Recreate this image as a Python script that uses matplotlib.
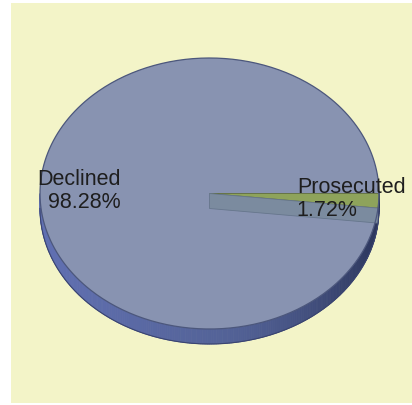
import numpy as np
import matplotlib
matplotlib.use('Agg')
import matplotlib.pyplot as plt
from matplotlib.patches import Polygon

categories = ['Declined', 'Prosecuted']
values = [98.28, 1.72]
pct_labels = ['98.28%', '1.72%']

W, H = 412, 405
fig = plt.figure(figsize=(W / 100, H / 100), dpi=100, facecolor='white')
ax = fig.add_axes([11 / W, 2 / H, 401 / W, 400 / H])
ax.set_xlim(11, 412)
ax.set_ylim(402, 2)
ax.set_facecolor('#f3f4c8')
ax.set_xticks([])
ax.set_yticks([])
for s in ax.spines.values():
    s.set_visible(False)

cx, cy, rx, ry, depth = 209.5, 192.5, 169.5, 135.5, 15.0


def rim(th):
    return cx + rx * np.cos(th), cy + ry * np.sin(th)


fr = np.array(values) / sum(values)
# Prosecuted starts at angle 0 and goes clockwise on screen
p_start, p_end = 0.0, 2 * np.pi * fr[1]
d_start, d_end = p_end, 2 * np.pi

# side (front half)
left_c = np.array([0.38, 0.44, 0.70])
mid_c = np.array([0.33, 0.39, 0.60])
right_c = np.array([0.17, 0.21, 0.36])
N = 240
ths = np.linspace(0, np.pi, N + 1)
for a, b in zip(ths[:-1], ths[1:]):
    t = 0.5 * (a + b)
    u = np.cos(t)  # 1 right, -1 left
    if u >= 0:
        c = mid_c + (right_c - mid_c) * u ** 1.5
    else:
        c = mid_c + (left_c - mid_c) * (-u)
    x1, y1 = rim(a)
    x2, y2 = rim(b)
    ax.add_patch(Polygon([(x1, y1), (x2, y2), (x2, y2 + depth), (x1, y1 + depth)],
                         closed=True, facecolor=c, edgecolor=c, lw=0.6))
# bottom outline of side
tt = np.linspace(0, np.pi, 200)
bx, by = rim(tt)
ax.plot(bx, by + depth, color='#3a4470', lw=0.8)

# top surfaces
top_col = '#8893b1'
green_col = '#8ea35b'
t = np.linspace(d_start, d_end, 400)
xs, ys = rim(t)
ax.add_patch(Polygon([(cx, cy)] + list(zip(xs, ys)), closed=True,
                     facecolor=top_col, edgecolor='none'))
t = np.linspace(p_start, p_end, 30)
xs, ys = rim(t)
ax.add_patch(Polygon([(cx, cy)] + list(zip(xs, ys)), closed=True,
                     facecolor=green_col, edgecolor='#5c6a3c', lw=0.6))

# wall of the Prosecuted slice
ex, ey = rim(p_end)
ax.add_patch(Polygon([(cx, cy), (ex, ey), (ex, ey + depth), (cx, cy + depth)],
                     closed=True, facecolor='#7b8b9f', edgecolor='#66768c', lw=0.6))

# top outline
tt = np.linspace(0, 2 * np.pi, 400)
ox, oy = rim(tt)
ax.plot(ox, oy, color='#4c577c', lw=0.9)

# labels
font = 'Liberation Sans'
fs = 15.5
mid_d = 0.5 * (d_start + d_end)
mx, my = rim(mid_d)
ax.text(mx - 3, my + 5, f'{categories[0]}\n{pct_labels[0]}', ha='left', va='center',
        multialignment='right', fontsize=fs, family=font, color='#1e1e1e',
        linespacing=1.15)
mid_p = 0.5 * (p_start + p_end)
mx, my = rim(mid_p)
ax.text(mx - 82, my - 2, f'{categories[1]}\n{pct_labels[1]}', ha='left', va='center',
        multialignment='left', fontsize=fs, family=font, color='#1e1e1e',
        linespacing=1.15)

fig.savefig('out.png', dpi=100, facecolor='white')
